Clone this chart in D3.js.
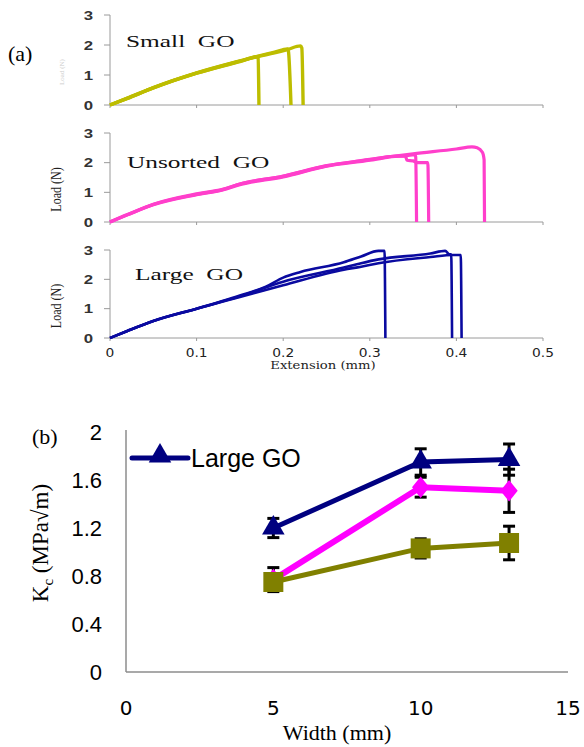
<!DOCTYPE html>
<html>
<head>
<meta charset="utf-8">
<script src="https://cdn.jsdelivr.net/npm/d3@7"></script>
<style>
  body { margin: 0; background: #fff; }
  svg { display: block; }
</style>
</head>
<body>
<svg id="chart" width="584" height="747"></svg>
<script>
// ---- panel (a): load vs extension ----
const extTicks = [0, 0.1, 0.2, 0.3, 0.4, 0.5];
const loadTicks = [0, 1, 2, 3];

const smallGO1 = [[0,0],[0.02,0.22],[0.05,0.57],[0.1,1.06],[0.15,1.45],[0.17,1.61],[0.171,1.58],[0.172,0]];
const smallGO2 = [[0,0],[0.02,0.23],[0.05,0.58],[0.1,1.07],[0.15,1.47],[0.17,1.62],[0.19,1.76],[0.205,1.87],[0.206,1.8],[0.209,0]];
const smallGO3 = [[0,0],[0.02,0.22],[0.05,0.57],[0.1,1.06],[0.15,1.46],[0.17,1.61],[0.19,1.74],[0.205,1.85],[0.22,1.97],[0.2215,1.9],[0.223,0]];

const unsortedGO1 = [[0,0],[0.02,0.24],[0.05,0.58],[0.1,0.92],[0.13,1.08],[0.15,1.26],[0.2,1.52],[0.25,1.88],[0.3,2.08],[0.32,2.18],[0.343,2.24],[0.352,2.27],[0.353,2.2],[0.354,0]];
const unsortedGO2 = [[0,0],[0.02,0.25],[0.05,0.6],[0.1,0.95],[0.13,1.1],[0.15,1.28],[0.2,1.55],[0.25,1.9],[0.3,2.1],[0.32,2.2],[0.341,2.23],[0.343,2.08],[0.35,2.06],[0.355,2.0],[0.367,2.0],[0.368,0]];
const unsortedGO3 = [[0,0],[0.02,0.24],[0.05,0.59],[0.1,0.93],[0.13,1.09],[0.15,1.28],[0.2,1.54],[0.25,1.89],[0.3,2.11],[0.35,2.3],[0.4,2.46],[0.418,2.53],[0.424,2.5],[0.43,2.35],[0.432,2.1],[0.4325,0]];

const largeGO1 = [[0,0],[0.02,0.24],[0.05,0.58],[0.1,1.0],[0.15,1.45],[0.18,1.75],[0.2,2.06],[0.22,2.25],[0.27,2.58],[0.29,2.78],[0.31,2.97],[0.317,2.97],[0.318,0]];
const largeGO2 = [[0,0],[0.02,0.24],[0.05,0.58],[0.1,1.0],[0.15,1.42],[0.2,1.92],[0.27,2.4],[0.29,2.55],[0.31,2.68],[0.37,2.88],[0.387,2.97],[0.392,2.85],[0.394,2.85],[0.395,0]];
const largeGO3 = [[0,0],[0.02,0.24],[0.05,0.58],[0.1,1.0],[0.15,1.4],[0.2,1.8],[0.27,2.33],[0.29,2.43],[0.31,2.55],[0.37,2.76],[0.396,2.83],[0.405,2.83],[0.406,0]];

// ---- panel (b): Kc vs width ----
const widths = [5, 10, 13];
const widthTicks = [0, 5, 10, 15];
const kcTicks = [0, 0.4, 0.8, 1.2, 1.6, 2];
const unsortedKc = [0.77, 1.54, 1.51];
const unsortedErr = [0.1, 0.083, 0.18];
const smallKc = [0.75, 1.03, 1.075];
const smallErr = [0.07, 0.08, 0.14];
const largeKc = [1.2, 1.75, 1.77];
const largeErr = [0.08, 0.11, 0.13];

const SERIF = "'Liberation Serif','Times New Roman',serif";
const SANS = "'Liberation Sans',Arial,sans-serif";

const svg = d3.select("#chart");

// text that is stretched sideways, like the scanned figure
function wideText(g, x, y, str, opts) {
  const t = g.append("g")
    .attr("transform", "translate(" + x + "," + y + ") scale(" + (opts.sx || 1) + ",1)")
    .append("text")
    .attr("font-family", opts.family || SANS)
    .attr("font-size", opts.size || 12)
    .attr("fill", opts.fill || "#000")
    .attr("text-anchor", opts.anchor || "start")
    .style("white-space", "pre")
    .text(str);
  return t;
}

// ---------- panel (a) ----------
const xExt = d3.scaleLinear().domain([0, 0.5]).range([110, 543]);

const subplots = [
  { name: "Small  GO", top: 15, bottom: 105, color: "#BDBD00", width: 3.4, curves: [smallGO1, smallGO2, smallGO3], labelY: 47, labelX: 126, loadLabel: "faint" },
  { name: "Unsorted  GO", top: 133, bottom: 222, color: "#FF3FCB", width: 3.2, curves: [unsortedGO1, unsortedGO2, unsortedGO3], labelY: 168, labelX: 127, loadLabel: "full" },
  { name: "Large  GO", top: 250, bottom: 338, color: "#0A0AA0", width: 2.6, curves: [largeGO1, largeGO2, largeGO3], labelY: 280, labelX: 135, loadLabel: "full" }
];

subplots.forEach(function(p, idx) {
  const yLoad = d3.scaleLinear().domain([0, 3]).range([p.bottom, p.top]);
  const g = svg.append("g");

  // axes
  g.append("line")
    .attr("x1", xExt(0)).attr("x2", xExt(0.5))
    .attr("y1", yLoad(0)).attr("y2", yLoad(0))
    .attr("stroke", "#9a9a9a").attr("stroke-width", 1);
  g.append("line")
    .attr("x1", xExt(0)).attr("x2", xExt(0))
    .attr("y1", yLoad(0)).attr("y2", yLoad(3))
    .attr("stroke", "#9a9a9a").attr("stroke-width", 1);
  g.selectAll(".xt").data(extTicks).enter().append("line")
    .attr("x1", d => xExt(d)).attr("x2", d => xExt(d))
    .attr("y1", yLoad(0)).attr("y2", yLoad(0) + 3)
    .attr("stroke", "#9a9a9a");
  g.selectAll(".yt").data(loadTicks).enter().append("line")
    .attr("x1", xExt(0) - 6).attr("x2", xExt(0))
    .attr("y1", d => yLoad(d)).attr("y2", d => yLoad(d))
    .attr("stroke", "#9a9a9a");

  loadTicks.forEach(function(v) {
    wideText(g, 93, yLoad(v) + 4.5, String(v), { sx: 1.4, size: 12, anchor: "end", fill: "#333" })
      .attr("font-weight", "bold");
  });

  // curves
  const line = d3.line().curve(d3.curveMonotoneX).x(d => xExt(d[0])).y(d => yLoad(d[1]));
  p.curves.forEach(function(c) {
    g.append("path")
      .attr("d", line(c))
      .attr("fill", "none")
      .attr("stroke", p.color)
      .attr("stroke-width", p.width)
      .attr("stroke-linejoin", "round");
  });

  wideText(g, p.labelX, p.labelY, p.name, { sx: 1.45, size: 17.5, family: SERIF, fill: "#111" });

  const midY = (p.top + p.bottom) / 2;
  if (p.loadLabel === "full") {
    g.append("g")
      .attr("transform", "translate(61," + (midY + 12) + ") rotate(-90) scale(1,1.25)")
      .append("text")
      .attr("font-family", SERIF).attr("font-size", 12)
      .attr("text-anchor", "middle")
      .attr("fill", "#222")
      .text("Load (N)");
  } else {
    g.append("g")
      .attr("transform", "translate(64," + (midY + 12) + ") rotate(-90)")
      .append("text")
      .attr("font-family", SERIF).attr("font-size", 7)
      .attr("text-anchor", "middle")
      .attr("fill", "#ccc")
      .text("Load (N)");
  }

  if (idx === subplots.length - 1) {
    extTicks.forEach(function(v) {
      wideText(g, xExt(v), 357, String(v), { sx: 1.15, size: 12, anchor: "middle", family: "'DejaVu Sans',Verdana,sans-serif", fill: "#222" });
    });
    wideText(g, 323, 369, "Extension (mm)", { sx: 1.2, size: 11, anchor: "middle", family: "'DejaVu Serif',serif", fill: "#222" });
  }
});

svg.append("text")
  .attr("x", 8).attr("y", 61)
  .attr("font-family", SERIF).attr("font-size", 22)
  .text("(a)");

// ---------- panel (b) ----------
const xW = d3.scaleLinear().domain([0, 15]).range([126, 568]);
const yK = d3.scaleLinear().domain([0, 2]).range([672, 432]);

const gb = svg.append("g");
gb.append("line")
  .attr("x1", xW(0)).attr("x2", xW(0)).attr("y1", yK(0)).attr("y2", 430)
  .attr("stroke", "#8c8c8c").attr("stroke-width", 1.5);
gb.append("line")
  .attr("x1", xW(0)).attr("x2", xW(15)).attr("y1", yK(0)).attr("y2", yK(0))
  .attr("stroke", "#8c8c8c").attr("stroke-width", 1.5);

gb.selectAll(".ky").data(kcTicks).enter().append("text")
  .attr("x", 102).attr("y", d => yK(d) + 8)
  .attr("text-anchor", "end")
  .attr("font-family", SANS).attr("font-size", 22)
  .text(d => String(d));

gb.selectAll(".wx").data(widthTicks).enter().append("text")
  .attr("x", d => xW(d)).attr("y", 715)
  .attr("text-anchor", "middle")
  .attr("font-family", "'DejaVu Sans','Open Sans',sans-serif").attr("font-size", 20)
  .text(d => String(d));

gb.append("text")
  .attr("x", 337).attr("y", 740)
  .attr("text-anchor", "middle")
  .attr("font-family", SERIF).attr("font-size", 22)
  .text("Width (mm)");

const kLabel = gb.append("text")
  .attr("transform", "translate(48,543) rotate(-90)")
  .attr("text-anchor", "middle")
  .attr("font-family", SERIF).attr("font-size", 23);
kLabel.append("tspan").text("K");
kLabel.append("tspan").attr("font-size", 15).attr("dy", 5).text("c");
kLabel.append("tspan").attr("dy", -5).text(" (MPa\u221Am)");

gb.append("text")
  .attr("x", 32).attr("y", 444)
  .attr("font-family", SERIF).attr("font-size", 22)
  .text("(b)");

const seriesB = [
  { vals: unsortedKc, err: unsortedErr, color: "#FF00FF", width: 6, symbol: d3.symbolDiamond2, size: 190, sy: 1.25 },
  { vals: smallKc, err: smallErr, color: "#808000", width: 5, symbol: d3.symbolSquare, size: 400, sy: 1 },
  { vals: largeKc, err: largeErr, color: "#000080", width: 5, symbol: d3.symbolTriangle, size: 220, sy: 1 }
];

// error bars first, markers sit on top
seriesB.forEach(function(s) {
  const eg = gb.append("g").attr("stroke", "#000").attr("stroke-width", 3);
  widths.forEach(function(w, i) {
    const x = xW(w), y1 = yK(s.vals[i] - s.err[i]), y2 = yK(s.vals[i] + s.err[i]);
    eg.append("line").attr("x1", x).attr("x2", x).attr("y1", y1).attr("y2", y2);
    eg.append("line").attr("x1", x - 6).attr("x2", x + 6).attr("y1", y1).attr("y2", y1);
    eg.append("line").attr("x1", x - 6).attr("x2", x + 6).attr("y1", y2).attr("y2", y2);
  });
});

const lineB = d3.line().x(d => xW(d[0])).y(d => yK(d[1]));
seriesB.forEach(function(s) {
  const pts = widths.map((w, i) => [w, s.vals[i]]);
  gb.append("path")
    .attr("d", lineB(pts))
    .attr("fill", "none")
    .attr("stroke", s.color)
    .attr("stroke-width", s.width);
  pts.forEach(function(p) {
    gb.append("path")
      .attr("d", d3.symbol().type(s.symbol).size(s.size)())
      .attr("transform", "translate(" + xW(p[0]) + "," + yK(p[1]) + ") scale(1," + s.sy + ")")
      .attr("fill", s.color);
  });
});

// legend
gb.append("line")
  .attr("x1", 132).attr("x2", 188).attr("y1", 458).attr("y2", 458)
  .attr("stroke", "#000080").attr("stroke-width", 5).attr("stroke-linecap", "round");
gb.append("path")
  .attr("d", d3.symbol().type(d3.symbolTriangle).size(220)())
  .attr("transform", "translate(160,456)")
  .attr("fill", "#000080");
gb.append("text")
  .attr("x", 191).attr("y", 467)
  .attr("font-family", SANS).attr("font-size", 25)
  .text("Large GO");
</script>
</body>
</html>
